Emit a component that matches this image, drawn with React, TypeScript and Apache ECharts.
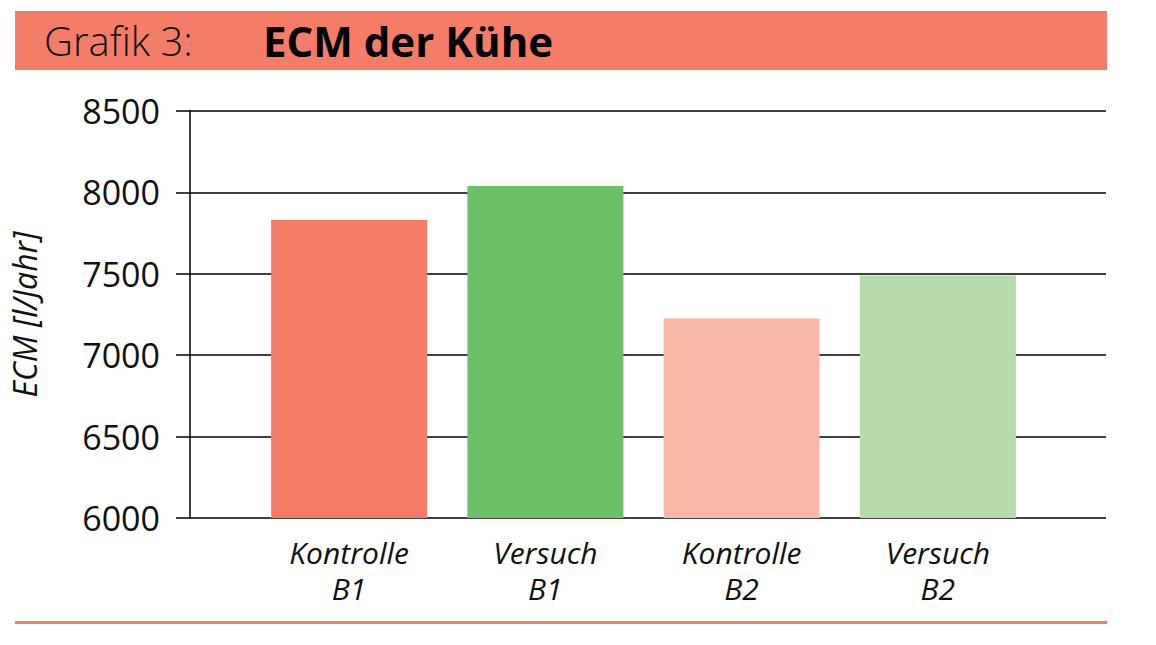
import React, { useEffect, useRef } from "react";
import * as echarts from "echarts";

const categories = ["Kontrolle\nB1", "Versuch\nB1", "Kontrolle\nB2", "Versuch\nB2"];
const values = [7830, 8040, 7225, 7490];
const barColors = ["#F47B66", "#6DBF67", "#F9B8A5", "#B6DCAD"];
const yMin = 6000;
const yMax = 8500;
const yStep = 500;
const titleLabel = "Grafik 3:";
const titleMain = "ECM der Kühe";
const yName = "ECM [l/Jahr]";

const FONT = "'Open Sans', 'Noto Sans', sans-serif";

export default function App() {
  const ref = useRef<HTMLDivElement>(null);
  useEffect(() => {
    if (!ref.current) return;
    const chart = echarts.init(ref.current, null, { renderer: "svg" });
    chart.setOption({
      animation: false,
      backgroundColor: "#ffffff",
      grid: [
        { left: 190, right: 50, top: 111, bottom: 127 },
        { left: 251, right: 120, top: 111, bottom: 127 },
      ],
      xAxis: [
        {
          gridIndex: 0,
          type: "category",
          data: [""],
          axisLine: { show: false },
          axisTick: { show: false },
          axisLabel: { show: false },
        },
        {
          gridIndex: 1,
          type: "category",
          data: categories,
          axisLine: { show: false },
          axisTick: { show: false },
          axisLabel: {
            color: "#111",
            fontFamily: FONT,
            fontStyle: "italic",
            fontSize: 30,
            lineHeight: 36,
            margin: 16,
          },
        },
      ],
      yAxis: [
        {
          gridIndex: 0,
          type: "value",
          min: yMin,
          max: yMax,
          interval: yStep,
          name: yName,
          nameLocation: "middle",
          nameGap: 150,
          nameRotate: 90,
          nameTextStyle: {
            color: "#111",
            fontFamily: FONT,
            fontStyle: "italic",
            fontSize: 32,
          },
          axisLine: { show: true, lineStyle: { color: "#000", width: 1.5 } },
          axisTick: { show: true, inside: false, length: 14, lineStyle: { color: "#000", width: 1.5 } },
          splitLine: { show: true, lineStyle: { color: "#000", width: 1.5 } },
          axisLabel: {
            color: "#111",
            fontFamily: FONT,
            fontSize: 34,
            margin: 30,
            formatter: (v: number) => String(v),
          },
        },
        {
          gridIndex: 1,
          type: "value",
          min: yMin,
          max: yMax,
          interval: yStep,
          show: false,
          splitLine: { show: false },
        },
      ],
      series: [
        {
          type: "bar",
          xAxisIndex: 1,
          yAxisIndex: 1,
          barWidth: 156,
          data: values.map((v, i) => ({ value: v, itemStyle: { color: barColors[i] } })),
          z: 3,
        },
      ],
      graphic: [
        {
          type: "rect",
          shape: { x: 15, y: 11, width: 1092, height: 59 },
          style: { fill: "#F47D68" },
        },
        {
          type: "text",
          x: 44,
          y: 40,
          style: {
            text: titleLabel,
            fill: "#111",
            font: `300 40px ${FONT}`,
            textVerticalAlign: "middle",
          },
        },
        {
          type: "text",
          x: 263,
          y: 40,
          style: {
            text: titleMain,
            fill: "#000",
            font: `bold 42px ${FONT}`,
            textVerticalAlign: "middle",
          },
        },
        {
          type: "rect",
          shape: { x: 15, y: 621, width: 1092, height: 3 },
          style: { fill: "#F47D68" },
        },
      ],
    });
    return () => chart.dispose();
  }, []);
  return <div ref={ref} style={{ width: 1156, height: 645, position: "absolute", left: 0, top: 0 }} />;
}
